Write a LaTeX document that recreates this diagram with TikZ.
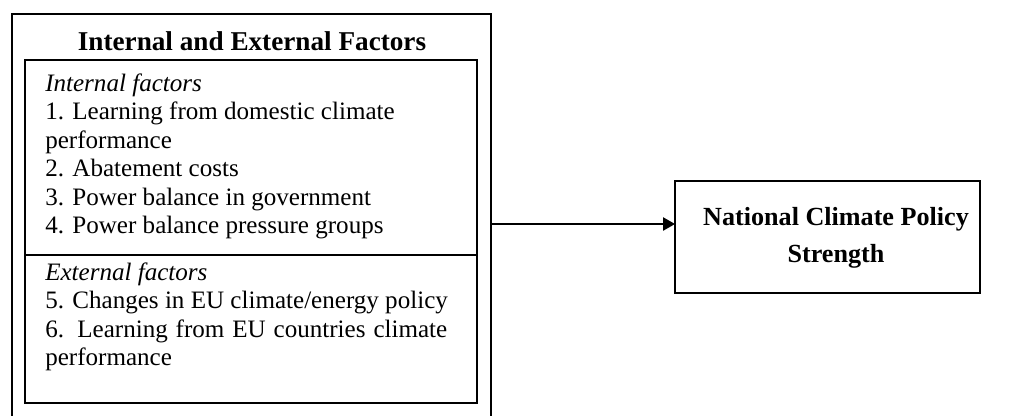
\documentclass[tikz,border=0pt]{standalone}
\usepackage{fontspec}
\setmainfont{Liberation Serif}
\usetikzlibrary{arrows.meta}
\begin{document}
\begin{tikzpicture}[x=0.75pt,y=-0.75pt,
  frame/.style={draw,line width=1.2pt,inner sep=0pt,outer sep=0pt},
  body/.style={anchor=base west,inner sep=0pt,font=\fontsize{18.8}{20}\selectfont},
  head/.style={anchor=base,inner sep=0pt,font=\fontsize{20.4}{22}\selectfont\bfseries},
  headr/.style={anchor=base,inner sep=0pt,font=\fontsize{19.6}{22}\selectfont\bfseries},
  link/.style={line width=1.1pt,-{Triangle[length=9pt,width=10pt]}}]
\useasboundingbox (0,0) rectangle (1012,415);
\clip (0,0) rectangle (1012,415);
% boxes
\node[frame,minimum width=359.25pt,minimum height=315pt] (outer) at (251.5,224) {};
\node[frame,minimum width=339pt,minimum height=146.25pt] (internal) at (251,157.5) {};
\node[frame,minimum width=339pt,minimum height=111pt] (external) at (251,329) {};
\node[frame,minimum width=228.75pt,minimum height=84pt] (target) at (827.5,237) {};
% heading
\node[head] (heading) at (252,50) {Internal and External Factors};
% internal factors
\node[body] (i0) at (45,91) {\itshape Internal factors};
\node[body] (i1) at (45,119.5) {1. Learning from domestic climate};
\node[body] (i1b) at (45,148) {performance};
\node[body] (i2) at (45,176.5) {2. Abatement costs};
\node[body] (i3) at (45,205) {3. Power balance in government};
\node[body] (i4) at (45,233.5) {4. Power balance pressure groups};
% external factors
\node[body] (e0) at (45,280) {\itshape External factors};
\node[body] (e5) at (45,308.5) {5. Changes in EU climate/energy policy};
\node[body] (e6) at (45,337) {\makebox[301.5pt][s]{6. Learning from EU countries climate}};
\node[body] (e6b) at (45,365.5) {performance};
% target text
\node[headr] (t1) at (836,225) {National Climate Policy};
\node[headr] (t2) at (836,262) {Strength};
% connector
\draw[link] (outer.east) -- (target.west |- outer.east);
\end{tikzpicture}
\end{document}
